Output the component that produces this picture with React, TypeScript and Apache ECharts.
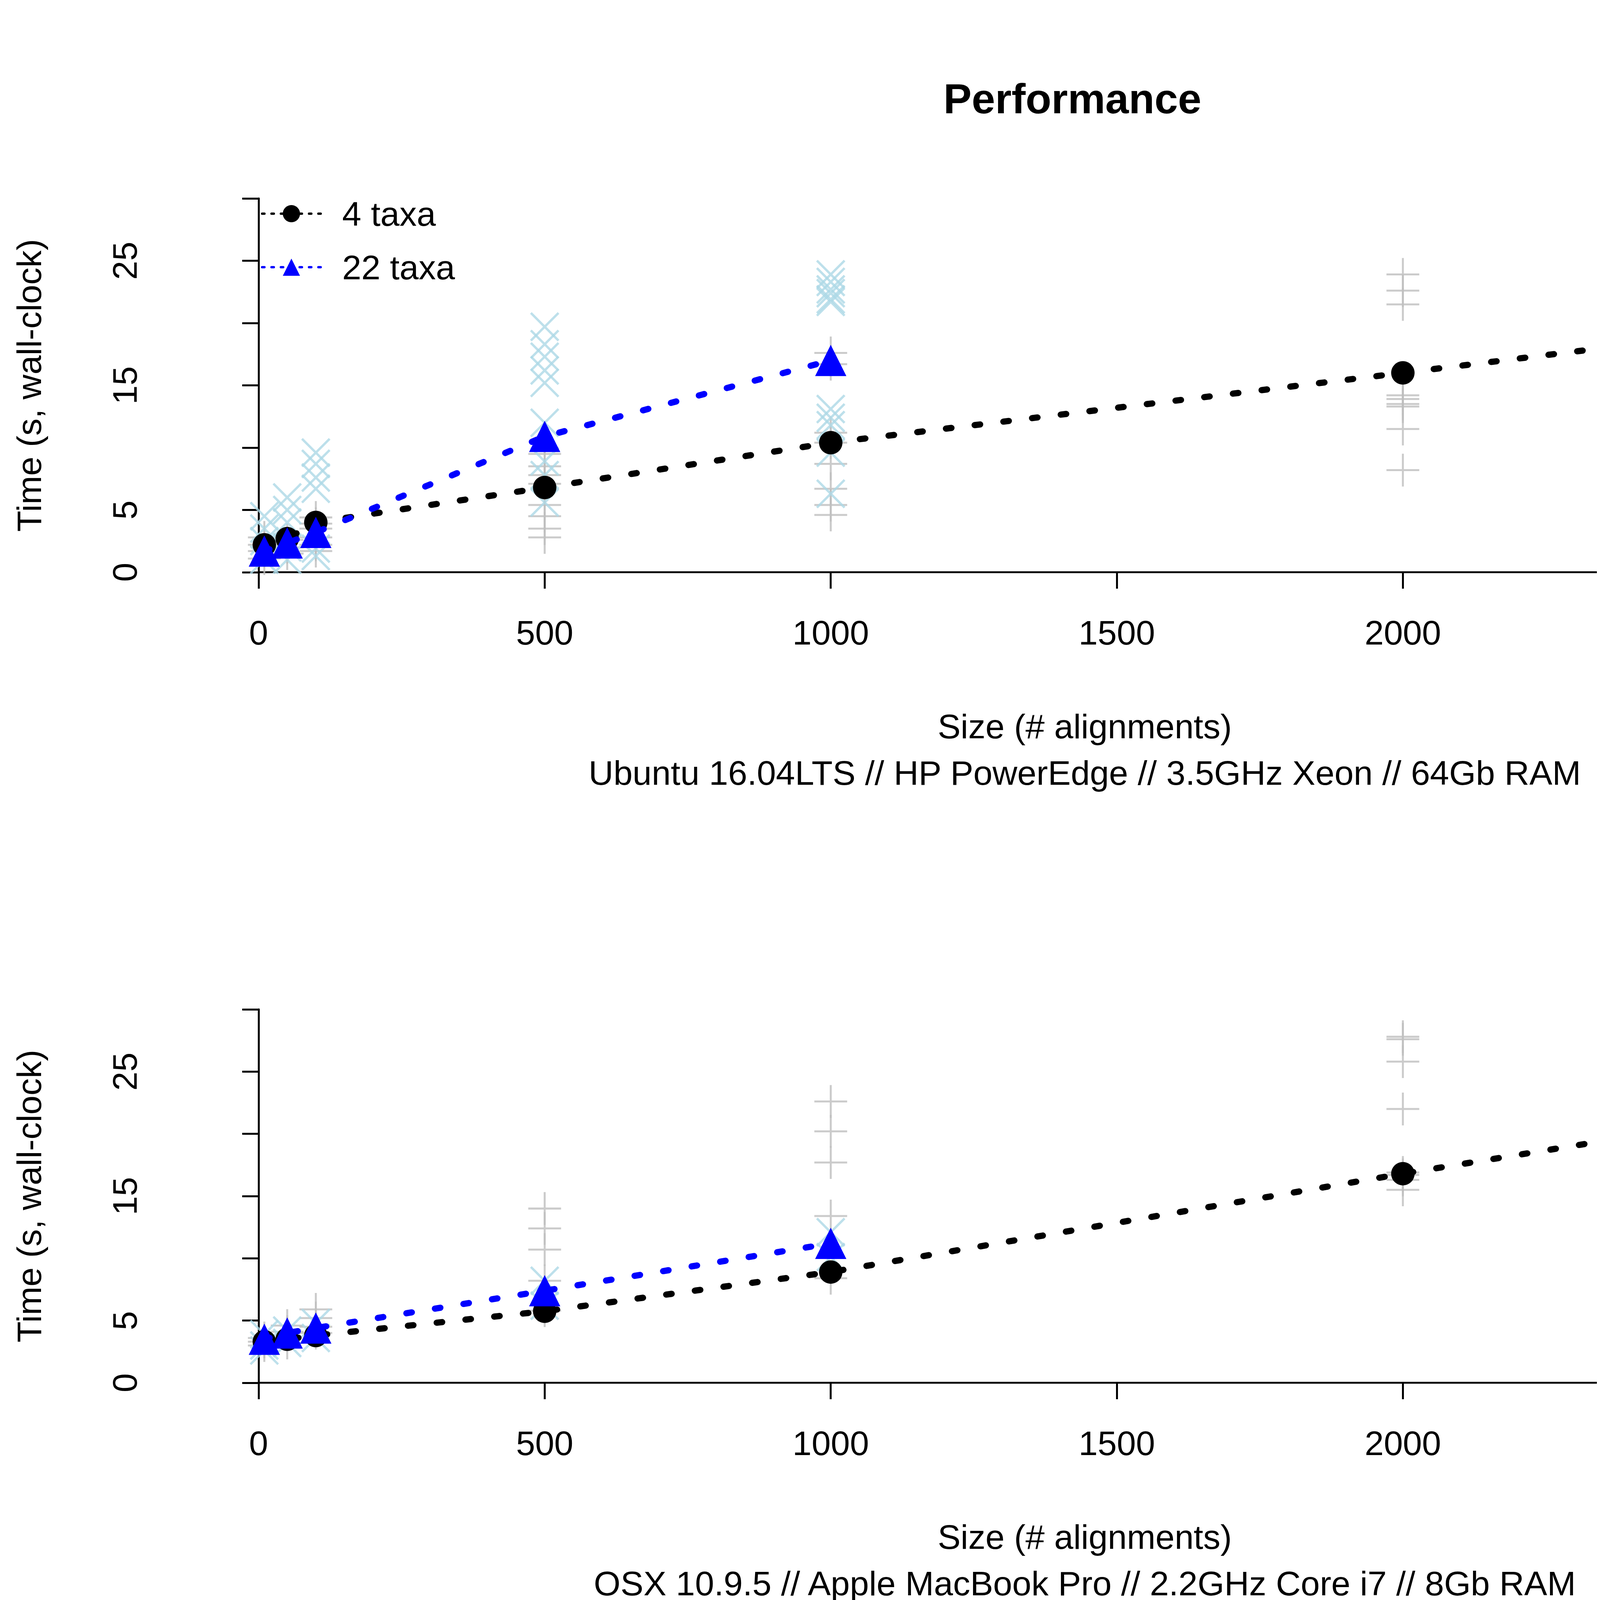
import React, { useEffect, useRef } from "react";
import * as echarts from "echarts";

const sizes = [10, 50, 100, 500, 1000, 2000, 3000];
const sizes22 = [10, 50, 100, 500, 1000];
const xTicks = [0, 500, 1000, 1500, 2000, 2500, 3000];

// Ubuntu / HP PowerEdge
const ubuntuMean4 = [2.2, 2.7, 4.0, 6.8, 10.4, 16.0, 21.7];
const ubuntuMean22 = [1.7, 2.35, 3.2, 10.9, 17.0];
const ubuntuRep4 = [
  [2.8, 2.2, 1.7, 1.1],
  [2.6, 2.0, 1.5],
  [4.4, 3.9, 3.5, 2.8, 2.2, 1.7],
  [9.5, 8.5, 7.8, 7.1, 5.4, 4.5, 3.5, 2.8],
  [17.6, 16.7, 11.2, 10.4, 8.7, 6.7, 5.4, 4.6],
  [23.9, 22.6, 21.5, 14.2, 13.9, 13.5, 13.3, 11.5, 8.2],
  [23.7, 23.6, 23.2, 21.7, 18.5, 14.7, 14.4, 13.9, 11.6],
];
const ubuntuRep22 = [
  [4.5, 3.5, 2.5, 1.0],
  [6.0, 5.0, 4.0, 2.0, 1.0],
  [9.6, 8.7, 7.6, 6.7, 1.9, 1.3],
  [19.7, 18.3, 17.3, 16.2, 15.2, 12.0, 8.9, 7.8, 5.6],
  [23.9, 23.3, 22.7, 22.4, 21.9, 21.7, 13.1, 12.4, 11.8, 9.6, 6.3],
];

// OSX / MacBook Pro
const osxMean4 = [3.3, 3.5, 3.8, 5.75, 8.9, 16.8, 24.3];
const osxMean22 = [3.5, 4.0, 4.4, 7.4, 11.2];
const osxRep4 = [
  [3.6, 3.3, 3.0],
  [4.6, 4.1, 3.2],
  [5.9, 5.2, 4.5, 4.0],
  [14.0, 12.4, 10.7, 8.2, 5.8],
  [22.6, 20.2, 17.7, 13.4, 8.4],
  [27.8, 27.6, 25.8, 22.0, 16.9, 16.7, 16.3, 15.5],
  [29.1, 28.8, 27.9, 24.6, 24.1, 23.8, 23.2, 23.0],
];
const osxRep22 = [
  [3.9, 3.0, 2.6],
  [4.2, 3.2],
  [4.8, 3.6],
  [8.2, 6.2],
  [12.1, 10.1],
];

const FONT = "Liberation Sans";
const PLUS = "path://M-0.6,-10H0.6V-0.6H10V0.6H0.6V10H-0.6V0.6H-10V-0.6H-0.6Z";

const reps = (xs: number[], vals: number[][]) =>
  xs.flatMap((x, i) => vals[i].map((v) => [x, v]));

const panelSeries = (
  idx: number,
  mean4: number[],
  mean22: number[],
  rep4: number[][],
  rep22: number[][]
): any[] => [
  {
    type: "line",
    xAxisIndex: idx,
    yAxisIndex: idx,
    data: [[0, 0], [3000, 0]],
    symbol: "none",
    silent: true,
    lineStyle: { color: "#000", width: 5 },
    z: 1,
  },
  {
    type: "scatter",
    xAxisIndex: idx,
    yAxisIndex: idx,
    data: reps(sizes, rep4),
    symbol: PLUS,
    symbolSize: 84,
    itemStyle: { color: "#bebebe" },
    z: 2,
  },
  {
    type: "scatter",
    xAxisIndex: idx,
    yAxisIndex: idx,
    data: reps(sizes22, rep22),
    symbol: PLUS,
    symbolSize: 100,
    symbolRotate: 45,
    itemStyle: { color: "#add8e6" },
    z: 3,
  },
  {
    name: "4 taxa",
    type: "line",
    xAxisIndex: idx,
    yAxisIndex: idx,
    data: sizes.map((x, i) => [x, mean4[i]]),
    symbol: "circle",
    symbolSize: 60,
    itemStyle: { color: "#000" },
    lineStyle: { color: "#000", width: 16, type: [14, 60], cap: "round" },
    z: 4,
  },
  {
    name: "22 taxa",
    type: "line",
    xAxisIndex: idx,
    yAxisIndex: idx,
    data: sizes22.map((x, i) => [x, mean22[i]]),
    symbol: "triangle",
    symbolSize: 80,
    itemStyle: { color: "#0000ff" },
    lineStyle: { color: "#0000ff", width: 16, type: [14, 60], cap: "round" },
    z: 5,
  },
];

const xAxisFor = (idx: number, sub: string): any => ({
  type: "value",
  gridIndex: idx,
  min: -112,
  max: 3000,
  axisLine: { show: false },
  splitLine: { show: false },
  axisTick: { customValues: xTicks, length: 42, lineStyle: { color: "#000", width: 5 } },
  axisLabel: {
    customValues: xTicks,
    margin: 110,
    fontSize: 88,
    color: "#000",
    fontFamily: FONT,
    formatter: (v: number) => String(v),
  },
  name: "Size (# alignments)\n" + sub,
  nameLocation: "middle",
  nameGap: 335,
  nameTextStyle: { fontSize: 88, lineHeight: 119, color: "#000", fontFamily: FONT },
});

const yAxisFor = (idx: number): any => ({
  type: "value",
  gridIndex: idx,
  min: 0,
  max: 30,
  interval: 5,
  axisLine: { show: true, lineStyle: { color: "#000", width: 5 } },
  axisTick: { length: 42, lineStyle: { color: "#000", width: 5 } },
  splitLine: { show: false },
  axisLabel: {
    rotate: 90,
    margin: 135,
    fontSize: 88,
    color: "#000",
    fontFamily: FONT,
    formatter: (v: number) => ([0, 5, 15, 25].includes(v) ? String(v) : ""),
  },
  name: "Time (s, wall-clock)",
  nameLocation: "middle",
  nameGap: 380,
  nameTextStyle: { fontSize: 88, color: "#000", fontFamily: FONT },
});

const App: React.FC = () => {
  const chartRef = useRef<HTMLDivElement>(null);

  useEffect(() => {
    if (!chartRef.current) return undefined;
    const chart = echarts.init(chartRef.current, undefined, { renderer: "svg" });
    const options: any = {
      animation: false,
      backgroundColor: "#fff",
      title: {
        text: "Performance",
        left: "center",
        top: 185,
        textStyle: { fontSize: 108, fontWeight: "bold", color: "#000", fontFamily: FONT },
      },
      legend: {
        data: ["4 taxa", "22 taxa"],
        orient: "vertical",
        left: 655,
        top: 490,
        itemGap: 49,
        itemWidth: 150,
        itemHeight: 55,
        lineStyle: { width: 6, type: [6, 18] },
        textStyle: { fontSize: 88, color: "#000", fontFamily: FONT, padding: [0, 0, 0, 50] },
      },
      grid: [
        { left: 490, right: 427, top: 500, height: 957 },
        { left: 490, right: 427, top: 2576, height: 956 },
      ],
      xAxis: [
        xAxisFor(0, "Ubuntu 16.04LTS // HP PowerEdge // 3.5GHz Xeon // 64Gb RAM"),
        xAxisFor(1, "OSX 10.9.5 // Apple MacBook Pro // 2.2GHz Core i7 // 8Gb RAM"),
      ],
      yAxis: [yAxisFor(0), yAxisFor(1)],
      series: [
        ...panelSeries(0, ubuntuMean4, ubuntuMean22, ubuntuRep4, ubuntuRep22),
        ...panelSeries(1, osxMean4, osxMean22, osxRep4, osxRep22),
      ],
    };
    chart.setOption(options);
    return () => {
      chart.dispose();
    };
  }, []);

  return <div ref={chartRef} style={{ width: "5475px", height: "4134px" }} />;
};

export default App;
